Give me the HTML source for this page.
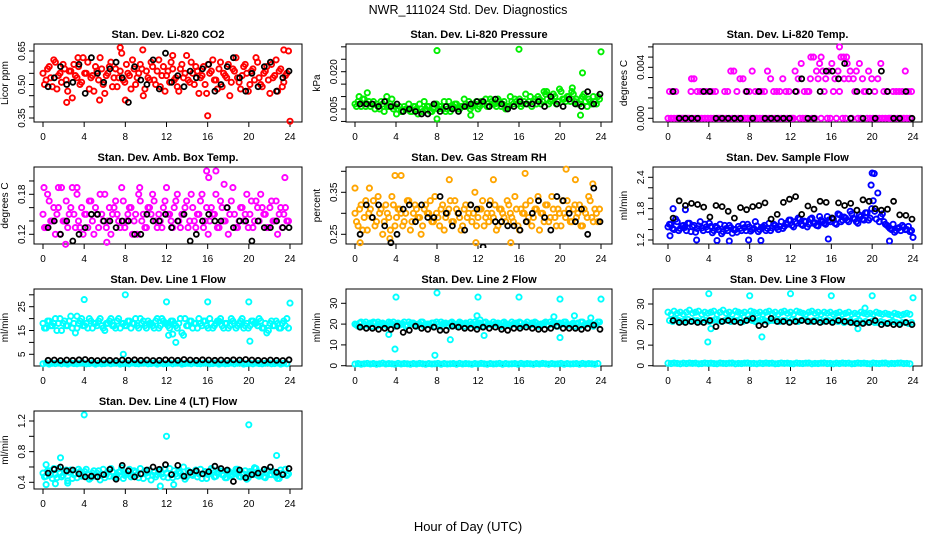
<!DOCTYPE html>
<html><head><meta charset="utf-8"><style>
html,body{margin:0;padding:0;background:#fff;}
svg{display:block;font-family:"Liberation Sans",Arial,sans-serif;}
</style></head><body>
<svg id="chart" width="936" height="540" viewBox="0 0 936 540">
<text x="468" y="14" text-anchor="middle" font-size="12.5">NWR_111024  Std. Dev. Diagnostics</text>
<text x="468" y="531" text-anchor="middle" font-size="13">Hour of Day (UTC)</text>
</svg>
<script>
// shared black-point hours
const blackHours=[0.5,1.1,1.7,2.3,2.9,3.5,4.1,4.7,5.3,5.9,6.5,7.1,7.7,8.3,8.9,9.5,10.1,10.7,11.3,11.9,12.5,13.1,13.7,14.3,14.9,15.5,16.1,16.7,17.3,17.9,18.5,19.1,19.7,20.3,20.9,21.5,22.1,22.7,23.3,23.9];
const nColored=80;

// CO2
const co2A=[0.55,0.52,0.58,0.49,0.60,0.54,0.51,0.57,0.47,0.56,0.59,0.53,0.50,0.62,0.55,0.48,0.54,0.58,0.52,0.57,0.46,0.55,0.60,0.53,0.49,0.56,0.52,0.59,0.54,0.61,0.50,0.55,0.57,0.48,0.53,0.60,0.52,0.56,0.49,0.58,0.54,0.51,0.57,0.53,0.47,0.59,0.55,0.52,0.60,0.50,0.56,0.53,0.58,0.46,0.55,0.61,0.52,0.57,0.49,0.54,0.59,0.51,0.56,0.53,0.48,0.58,0.55,0.50,0.57,0.62,0.53,0.49,0.56,0.52,0.59,0.54,0.47,0.57,0.51,0.55];
const co2B=[0.50,0.57,0.53,0.61,0.48,0.55,0.59,0.52,0.56,0.44,0.54,0.58,0.51,0.55,0.60,0.53,0.47,0.56,0.62,0.50,0.54,0.58,0.49,0.57,0.53,0.64,0.51,0.55,0.48,0.57,0.53,0.59,0.45,0.56,0.52,0.58,0.50,0.61,0.54,0.47,0.56,0.60,0.52,0.49,0.57,0.53,0.63,0.51,0.55,0.58,0.46,0.54,0.50,0.59,0.56,0.52,0.48,0.60,0.55,0.53,0.45,0.57,0.62,0.51,0.54,0.59,0.47,0.56,0.52,0.60,0.50,0.55,0.58,0.46,0.53,0.61,0.56,0.49,0.54,0.65];
const co2OutHours=[2.3,5.5,9.7,7.5,16,24,23.4,3.4,12.6,8.0];
const co2OutVals=[0.42,0.43,0.655,0.665,0.36,0.335,0.655,0.62,0.63,0.43];
const co2Black=[0.49,0.53,0.58,0.50,0.51,0.59,0.46,0.62,0.55,0.51,0.57,0.60,0.53,0.42,0.58,0.52,0.50,0.61,0.48,0.64,0.51,0.54,0.49,0.56,0.53,0.57,0.59,0.47,0.50,0.58,0.62,0.53,0.47,0.55,0.49,0.58,0.60,0.47,0.53,0.56];

// Pressure
const presA=[0.007,0.008,0.006,0.009,0.007,0.006,0.008,0.007,0.005,0.007,0.008,0.006,0.009,0.006,0.005,0.004,0.006,0.005,0.004,0.006,0.005,0.007,0.004,0.005,0.006,0.004,0.007,0.005,0.006,0.008,0.005,0.004,0.006,0.007,0.005,0.006,0.007,0.008,0.006,0.007,0.005,0.008,0.007,0.006,0.009,0.007,0.006,0.008,0.007,0.005,0.006,0.008,0.009,0.007,0.006,0.008,0.007,0.010,0.008,0.007,0.009,0.008,0.011,0.007,0.009,0.010,0.008,0.012,0.009,0.010,0.008,0.011,0.009,0.007,0.010,0.008,0.009,0.007,0.008,0.010];
const presB=[0.006,0.007,0.009,0.006,0.008,0.007,0.005,0.006,0.008,0.004,0.006,0.007,0.005,0.003,0.006,0.004,0.005,0.007,0.004,0.006,0.003,0.005,0.008,0.006,0.004,0.005,0.007,0.006,0.005,0.004,0.008,0.006,0.007,0.005,0.006,0.009,0.006,0.005,0.007,0.008,0.006,0.007,0.009,0.006,0.008,0.007,0.009,0.006,0.008,0.006,0.010,0.007,0.008,0.009,0.007,0.011,0.008,0.006,0.009,0.010,0.007,0.012,0.009,0.008,0.011,0.007,0.013,0.009,0.008,0.010,0.012,0.008,0.007,0.009,0.011,0.006,0.008,0.010,0.007,0.009];
const presOutHours=[8,16,24,1.2,22.2,22,8,11.3,21.2,0.4,3.1,18.7];
const presOutVals=[0.0285,0.029,0.028,0.0115,0.0195,0.0025,0.001,0.0025,0.0135,0.010,0.010,0.012];
const presBlack=[0.007,0.007,0.007,0.006,0.008,0.006,0.007,0.004,0.005,0.004,0.003,0.003,0.007,0.004,0.006,0.005,0.004,0.006,0.007,0.008,0.008,0.006,0.009,0.007,0.005,0.006,0.008,0.007,0.007,0.008,0.006,0.010,0.007,0.006,0.009,0.007,0.006,0.012,0.007,0.011];

// Li-820 temperature
const tempA=[0,0,0,0,0,0,0,0,0,0,0,0,0,0,0,0,0,0,0,0,0,0,0,0,0,0,0,0,0,0,0,0,0,0,0,0,0,0,0,0,0,0,0.0021,0,0,0,0.0021,0,0,0.0031,0,0.0021,0,0,0.0021,0,0.0021,0,0,0.0031,0,0.0021,0,0,0.0021,0,0,0,0,0,0,0,0,0,0,0,0,0,0,0];
const tempB=[0.0021,0.0021,0.0021,0,0,0,0,0.0021,0.0031,0.0021,0.0021,0.0021,0.0021,0.0021,0.0021,0.0021,0,0,0.0021,0.0021,0.0037,0.0037,0.0021,0.0031,0.0031,0.0021,0.0021,0.0037,0.0021,0.0021,0.0021,0.0021,0.0037,0.0031,0.0021,0.0021,0.0021,0.0031,0.0021,0.0021,0,0.0037,0.0031,0.0043,0.0021,0.0021,0.0031,0.0048,0.0037,0.0043,0.0037,0.0031,0.0037,0.0043,0.0031,0.0037,0.0048,0.0031,0.0043,0.0037,0.0031,0.0037,0.0043,0.0031,0.0021,0.0037,0.0031,0.0021,0.0031,0.0043,0.0021,0.0021,0,0.0021,0.0021,0.0021,0.0021,0.0037,0.0021,0.0021];
const tempOutHours=[16.8,14,15,2.3,17.2,17.5];
const tempOutVals=[0.0056,0.0048,0.0048,0.0031,0.0048,0.0048];
const tempBlack=[0.0021,0,0,0,0,0.0021,0.0021,0,0,0,0,0,0.0021,0,0.0021,0,0,0,0,0,0.0021,0.0031,0,0,0.0021,0.0037,0.0037,0.0031,0.0043,0,0.0021,0,0.0021,0,0.0037,0.0021,0,0,0.0021,0];

// Ambient box temp
const ambA=[0.15,0.13,0.17,0.14,0.12,0.16,0.19,0.14,0.13,0.16,0.15,0.18,0.13,0.12,0.15,0.17,0.14,0.16,0.13,0.15,0.18,0.14,0.12,0.16,0.15,0.13,0.17,0.14,0.16,0.12,0.15,0.18,0.14,0.13,0.16,0.15,0.17,0.13,0.14,0.16,0.19,0.15,0.13,0.17,0.14,0.15,0.16,0.13,0.18,0.14,0.15,0.17,0.13,0.16,0.14,0.15,0.18,0.13,0.16,0.14,0.12,0.17,0.15,0.13,0.16,0.14,0.18,0.15,0.13,0.17,0.14,0.16,0.15,0.13,0.17,0.14,0.12,0.16,0.15,0.14];
const ambB=[0.13,0.18,0.14,0.16,0.15,0.12,0.14,0.17,0.15,0.19,0.13,0.14,0.16,0.15,0.13,0.17,0.12,0.15,0.18,0.14,0.13,0.16,0.15,0.17,0.14,0.19,0.13,0.15,0.16,0.14,0.12,0.17,0.15,0.13,0.16,0.18,0.14,0.15,0.13,0.17,0.15,0.14,0.16,0.18,0.13,0.15,0.17,0.14,0.16,0.13,0.15,0.18,0.14,0.12,0.16,0.15,0.13,0.17,0.14,0.16,0.15,0.19,0.13,0.14,0.16,0.15,0.13,0.17,0.14,0.16,0.18,0.15,0.13,0.16,0.14,0.17,0.15,0.13,0.16,0.14];
const ambOutHours=[0.1,3.3,2.2,15.9,16.8,16.1,23.5,6.2,9.4,1.5,17.6];
const ambOutVals=[0.19,0.19,0.105,0.215,0.215,0.205,0.205,0.108,0.19,0.19,0.195];
const ambBlack=[0.13,0.14,0.12,0.14,0.11,0.12,0.13,0.15,0.15,0.14,0.14,0.13,0.14,0.14,0.12,0.12,0.15,0.14,0.14,0.15,0.13,0.14,0.15,0.11,0.12,0.14,0.15,0.14,0.14,0.16,0.13,0.14,0.14,0.11,0.14,0.13,0.13,0.14,0.13,0.13];

// Gas stream RH
const rhA=[0.30,0.27,0.32,0.29,0.26,0.31,0.33,0.28,0.30,0.25,0.32,0.29,0.34,0.27,0.31,0.30,0.28,0.33,0.26,0.30,0.31,0.29,0.27,0.32,0.30,0.28,0.34,0.29,0.31,0.26,0.30,0.33,0.28,0.31,0.29,0.27,0.32,0.30,0.28,0.35,0.29,0.31,0.27,0.30,0.33,0.29,0.26,0.31,0.30,0.28,0.32,0.29,0.34,0.27,0.31,0.30,0.28,0.33,0.29,0.31,0.26,0.30,0.32,0.28,0.34,0.29,0.31,0.27,0.30,0.33,0.28,0.31,0.29,0.32,0.27,0.30,0.34,0.29,0.31,0.28];
const rhB=[0.28,0.31,0.26,0.33,0.30,0.29,0.27,0.34,0.31,0.28,0.30,0.26,0.32,0.29,0.31,0.27,0.30,0.33,0.28,0.32,0.29,0.25,0.31,0.30,0.33,0.28,0.30,0.27,0.32,0.29,0.31,0.28,0.33,0.30,0.26,0.31,0.29,0.32,0.30,0.27,0.31,0.33,0.29,0.28,0.30,0.32,0.27,0.31,0.29,0.33,0.30,0.28,0.31,0.26,0.30,0.32,0.29,0.27,0.31,0.34,0.30,0.28,0.32,0.29,0.31,0.27,0.30,0.33,0.29,0.31,0.28,0.32,0.30,0.27,0.31,0.29,0.33,0.28,0.30,0.31];
const rhOutHours=[0,3.9,4.5,9.2,16.6,20.6,0.5,11.8,15.2,3.4,23.2,1.4,13.5,21.5];
const rhOutVals=[0.36,0.39,0.39,0.38,0.395,0.405,0.23,0.23,0.23,0.24,0.37,0.36,0.38,0.38];
const rhBlack=[0.25,0.32,0.29,0.32,0.27,0.23,0.25,0.31,0.32,0.28,0.32,0.29,0.29,0.34,0.30,0.27,0.30,0.26,0.32,0.31,0.22,0.32,0.28,0.28,0.27,0.27,0.26,0.28,0.30,0.33,0.29,0.26,0.34,0.33,0.30,0.28,0.31,0.25,0.36,0.28];

// Sample flow
const sfA=[1.45,1.50,1.40,1.55,1.42,1.48,1.38,1.52,1.45,1.35,1.47,1.43,1.50,1.40,1.46,1.38,1.44,1.50,1.36,1.42,1.48,1.33,1.40,1.46,1.38,1.44,1.50,1.37,1.42,1.47,1.40,1.45,1.38,1.52,1.43,1.48,1.40,1.55,1.46,1.50,1.58,1.45,1.52,1.60,1.48,1.55,1.50,1.62,1.53,1.47,1.58,1.52,1.65,1.55,1.60,1.50,1.68,1.58,1.62,1.55,1.70,1.60,1.52,1.65,1.58,1.72,1.62,1.95,1.60,1.55,1.70,1.50,1.45,1.40,1.35,1.42,1.38,1.45,1.40,1.36];
const sfB=[1.50,1.42,1.60,1.38,1.47,1.44,1.52,1.36,1.48,1.42,1.55,1.38,1.45,1.52,1.34,1.46,1.40,1.32,1.48,1.38,1.44,1.40,1.35,1.42,1.50,1.38,1.45,1.40,1.55,1.36,1.44,1.48,1.42,1.38,1.50,1.44,1.46,1.42,1.52,1.58,1.48,1.55,1.62,1.50,1.56,1.45,1.60,1.52,1.48,1.65,1.55,1.50,1.58,1.62,1.52,1.70,1.55,1.64,1.58,1.75,1.62,1.55,1.68,1.60,1.72,1.58,1.80,1.75,2.10,1.65,1.55,1.48,1.42,1.50,1.38,1.44,1.48,1.40,1.46,1.38];
const sfOutHours=[0.2,4.8,6,7.9,9.1,15.7,20,20.2,19.9,21.7,24,0.5,1.7,2.8];
const sfOutVals=[1.28,1.19,1.18,1.20,1.19,1.22,2.48,2.47,2.25,1.18,1.25,1.80,1.78,1.20];
const sfBlack=[1.62,1.95,1.86,1.90,1.88,1.83,1.64,1.86,1.84,1.75,1.62,1.82,1.78,1.84,1.86,1.91,1.60,1.69,1.92,1.98,2.03,1.69,1.85,1.79,1.94,1.92,1.62,1.91,1.86,1.90,1.77,1.97,1.94,1.80,1.77,1.79,1.94,1.68,1.67,1.60];

// Line 1 flow
const l1A=[18,16,19,17,20,18,15,19,17,21,18,16,19,17,18,20,16,18,19,17,15,18,20,17,19,16,18,17,19,18,20,16,18,17,19,18,16,20,17,19,18,16,19,17,18,14,20,17,19,18,16,18,19,17,20,16,18,19,17,18,16,20,18,17,19,16,18,17,19,18,20,16,18,15,19,17,18,16,19,20];
const l1B=[16,19,17,18,15,20,18,17,19,16,14,18,20,17,16,19,18,17,20,16,18,19,17,16,20,18,17,19,16,18,17,20,19,16,18,17,19,16,20,18,17,19,18,16,20,13,17,19,16,18,20,17,19,16,18,17,19,20,16,18,17,19,16,18,20,17,16,19,18,17,19,16,14,18,17,19,16,18,17,16];
const l1Low=[1.0,1.3,0.9,1.2,1.1,1.4,1.0,1.2,0.9,1.3,1.1,1.0,1.2,1.4,1.0,1.1,1.3,0.9,1.2,1.0,1.1,1.3,1.0,1.2,1.4,0.9,1.1,1.2,1.0,1.3,1.1,1.0,1.2,1.4,1.0,1.1,1.3,0.9,1.2,1.0,1.1,1.3,1.0,1.2,1.4,0.9,1.1,1.2,1.0,1.3,1.1,1.0,1.2,1.4,1.0,1.1,1.3,0.9,1.2,1.0,1.1,1.3,1.0,1.2,1.4,0.9,1.1,1.2,1.0,1.3,1.1,1.0,1.2,1.4,1.0,1.1,1.3,0.9,1.2,1.0];
const l1OutHours=[4,8,12,16,20,24,12.2,12.6,12.9,20.1,7.8,3.3];
const l1OutVals=[28,30,27,27,27,26.5,13,13.5,10,10.5,5,21];
const l1Black=[2.5,2.6,2.4,2.6,2.5,2.7,2.8,2.5,2.4,2.6,2.5,2.4,2.6,2.5,2.7,2.5,2.6,2.4,2.5,2.7,2.6,2.5,2.8,2.6,2.5,2.7,2.6,2.5,2.6,2.5,2.7,2.6,2.8,2.6,2.5,2.4,2.6,2.5,2.4,2.7];

// Line 2 flow
const l2A=[20,19,21,20,19.5,20.5,21,19,20,20.5,19.5,21,20,19,20.5,20,21,19.5,20,20.5,19,20,21,19.5,20,20.5,19,20,21,20,19.5,20.5,20,19,21,20,20.5,19.5,20,21,19,20,20.5,19.5,20,21,20,19,20.5,20,19.5,21,20,19,20.5,20,21,19.5,20,20.5,19,20,21,19.5,20,20.5,19,20,21,20,19.5,20.5,20,19,21,20,20.5,19.5,20,21];
const l2B=[19.5,20.5,19,21,20,19,20.5,21,19.5,20,19,20.5,21,20,19.5,20,19,21,20.5,19.5,20,21,19,20,19.5,20.5,21,19,20,20.5,19,21,20,19.5,20.5,19,20,21,19.5,20,20.5,19,21,20,19.5,20,20.5,19,21,20,19.5,20,20.5,21,19,20,19.5,20.5,21,19,20,20.5,19.5,21,20,19,20.5,20,21,19.5,20,19,20.5,21,19.5,20,20.5,19,20,21];
const l2Low=[0.8,1.0,0.7,0.9,1.1,0.8,1.0,0.7,0.9,1.2,0.8,1.0,0.9,0.7,1.1,0.8,1.0,0.9,0.7,1.0,0.8,1.1,0.9,0.7,1.0,0.8,0.9,1.1,0.7,1.0,0.8,0.9,1.0,0.7,1.1,0.8,1.0,0.9,0.7,1.0,0.8,1.1,0.9,0.7,1.0,0.8,0.9,1.1,0.7,1.0,0.8,0.9,1.0,0.7,1.1,0.8,1.0,0.9,0.7,1.0,0.8,1.1,0.9,0.7,1.0,0.8,0.9,1.1,0.7,1.0,0.8,0.9,1.0,0.7,1.1,0.8,1.0,0.9,0.7,1.0];
const l2OutHours=[4,8,12,16,20,24,3.9,7.8,11.9,9.3,12.6,20,19.4,21.4,23,3.3,12.2];
const l2OutVals=[33,35,33,33,32,32,8,5,24,12.5,14.5,13.5,23.5,24,23,15,22];
const l2Black=[18.5,18,18,17.5,18,17.5,19,16,17,19,18,17.5,18.5,17,17,19,18.5,18,18,17.5,18.5,18,18.5,17.5,17,18,18,18.5,18,17.5,17.5,18,19,18,18,18,17.5,18,19.5,17.5];

// Line 3 flow
const l3A=[26,25,26.5,25.5,26,25,26,27,25.5,26,26.5,25,26,25.5,26,26.5,25,26,27,25.5,26,25,26.5,26,25.5,26,25,26.5,26,25.5,26,25,26,26.5,25.5,26,25,26,26.5,25.5,26,25,26.5,26,25.5,25,26,26.5,25.5,26,25,26,25.5,26,25,25.5,26,25,25.5,26,25,25.5,25,26,25.5,25,25.5,25,26,25.5,25,25.5,25,24.5,25.5,25,24.5,25,25.5,25];
const l3B=[22,21.5,22.5,22,21.5,22,22.5,21.5,22,22,21.5,22.5,22,21.5,22,22.5,22,21.5,22,22.5,21.5,22,22,22.5,21.5,22,22.5,22,21.5,22,22.5,22,21.5,22,22,22.5,21.5,22,22,21.5,22.5,22,21.5,22,22.5,22,21.5,22,22,22.5,21.5,22,22,21.5,22,21.5,22,21,21.5,22,21,21.5,22,21,21.5,21,21.5,21,21,21.5,21,20.5,21,21.5,21,20.5,21,21,20.5,21];
const l3Low=[1.2,1.0,1.3,1.1,0.9,1.2,1.0,1.3,1.1,1.2,0.9,1.0,1.3,1.1,1.2,1.0,0.9,1.3,1.1,1.0,1.2,1.3,0.9,1.1,1.0,1.2,1.3,1.0,1.1,0.9,1.2,1.0,1.3,1.1,1.2,0.9,1.0,1.3,1.1,1.2,1.0,0.9,1.3,1.1,1.0,1.2,1.3,0.9,1.1,1.0,1.2,1.3,1.0,1.1,0.9,1.2,1.0,1.3,1.1,1.2,0.9,1.0,1.3,1.1,1.2,1.0,0.9,1.3,1.1,1.0,1.2,1.3,0.9,1.1,1.0,1.2,1.3,1.0,1.1,0.9];
const l3OutHours=[4,8,12,16,20,24,3.9,9.2,19.3,18.6,4.2];
const l3OutVals=[35,34,35,34,34,33,11.5,14,28,18,18];
const l3Black=[22,21,21,21.5,21,21,22,19,21.5,22,21.5,21,22,23,19.5,20,23,21.5,21.5,21,21.5,22,21.5,21.5,21,21.5,21,22,21.5,21,20.5,20.5,21,22,20,20.5,20,20,21,20];

// Line 4 (LT) flow
const l4A=[0.52,0.48,0.55,0.45,0.50,0.58,0.47,0.53,0.42,0.56,0.50,0.46,0.54,0.49,0.57,0.44,0.52,0.48,0.55,0.51,0.46,0.53,0.58,0.47,0.50,0.54,0.45,0.52,0.57,0.49,0.53,0.46,0.51,0.55,0.48,0.43,0.53,0.50,0.56,0.47,0.52,0.58,0.46,0.51,0.54,0.49,0.44,0.55,0.50,0.53,0.47,0.57,0.51,0.45,0.52,0.56,0.48,0.53,0.50,0.46,0.55,0.49,0.52,0.57,0.47,0.51,0.44,0.54,0.50,0.58,0.48,0.52,0.46,0.55,0.50,0.53,0.45,0.56,0.51,0.49];
const l4B=[0.47,0.55,0.50,0.58,0.46,0.52,0.49,0.56,0.53,0.45,0.51,0.57,0.48,0.54,0.50,0.46,0.55,0.52,0.43,0.57,0.50,0.48,0.54,0.46,0.53,0.59,0.49,0.51,0.47,0.55,0.50,0.58,0.45,0.52,0.56,0.49,0.47,0.54,0.51,0.57,0.46,0.50,0.55,0.48,0.52,0.60,0.47,0.53,0.49,0.56,0.51,0.45,0.54,0.50,0.58,0.47,0.52,0.55,0.49,0.46,0.53,0.50,0.57,0.48,0.51,0.55,0.46,0.52,0.59,0.49,0.53,0.47,0.56,0.50,0.54,0.48,0.45,0.52,0.57,0.51];
const l4OutHours=[4,12,20,1.7,22.7,11.4,0.3,0.3,1.2,12.7,2.4];
const l4OutVals=[1.28,1.0,1.15,0.72,0.75,0.35,0.37,0.63,0.38,0.37,0.39];
const l4Black=[0.52,0.57,0.60,0.55,0.56,0.51,0.47,0.48,0.47,0.50,0.57,0.44,0.62,0.55,0.47,0.51,0.56,0.60,0.57,0.63,0.50,0.62,0.48,0.53,0.55,0.51,0.54,0.61,0.58,0.56,0.41,0.56,0.46,0.50,0.52,0.57,0.60,0.53,0.50,0.58];

const xTicks=[0,4,8,12,16,20,24];

const NS="http://www.w3.org/2000/svg";
const svg=document.getElementById('chart');
function mk(tag,attrs,parent){const e=document.createElementNS(NS,tag);for(const k in attrs)e.setAttribute(k,attrs[k]);(parent||svg).appendChild(e);return e;}

const cols=[{bl:34,br:302,x0:43,x1:290},{bl:346,br:612,x0:355,x1:601},{bl:653,br:922,x0:668,x1:913}];
const rows=[{top:44,bot:122},{top:167,bot:244},{top:289,bot:366},{top:411,bot:489}];

function panel(p){
  const c=cols[p.col],r=rows[p.row];
  const g=mk('g',{});
  
  
  const xs=h=>c.x0+(c.x1-c.x0)*h/24;
  const ys=v=>p.py0+(p.py1-p.py0)*(v-p.v0)/(p.v1-p.v0);
  const t=mk('text',{x:(c.bl+c.br)/2,y:r.top-6,'text-anchor':'middle','font-size':11,'font-weight':'bold'},g);
  t.textContent=p.title;
  
  
  const b=mk('rect',{x:c.bl,y:r.top,width:c.br-c.bl,height:r.bot-r.top,fill:'none',stroke:'#000','stroke-width':1},g);
  
  
  xTicks.forEach(h=>{
    mk('line',{x1:xs(h),x2:xs(h),y1:r.bot,y2:r.bot+5,stroke:'#000'},g);
    const tl=mk('text',{x:xs(h),y:r.bot+18,'text-anchor':'middle','font-size':10},g);
    tl.textContent=h;
    
    
  });
  p.yt.forEach(v=>{mk('line',{x1:c.bl-5,x2:c.bl,y1:ys(v),y2:ys(v),stroke:'#000'},g);});
  p.yl.forEach(v=>{
    const y=ys(v),x=c.bl-9;
    const tl=mk('text',{x:x,y:y,'text-anchor':'middle','font-size':10,transform:`rotate(-90 ${x} ${y})`},g);
    tl.textContent=v.toFixed(p.dec);
    
    
  });
  const yx=c.bl-26,yy=(r.top+r.bot)/2;
  const yt=mk('text',{x:yx,y:yy,'text-anchor':'middle','font-size':10,transform:`rotate(-90 ${yx} ${yy})`},g);
  yt.textContent=p.ylab;
  
  
  const clip=`clip${p.row}${p.col}`;
  const cp=mk('clipPath',{id:clip},g);
  mk('rect',{x:c.bl-4,y:r.top-4,width:c.br-c.bl+8,height:r.bot-r.top+8},cp);
  const pg=mk('g',{'clip-path':`url(#${clip})`},g);
  p.series.forEach((s,si)=>{
    s.v.forEach((v,i)=>{
      const h=s.h?s.h[i]:(i*0.3+(si%2?0.15:0));
      const pt=mk('circle',{cx:xs(h).toFixed(1),cy:ys(v).toFixed(1),r:2.6,fill:'none',stroke:p.color,'stroke-width':1.9},pg);
      
      
    });
  });
  p.black.forEach((v,i)=>{
    const pt=mk('circle',{cx:xs(blackHours[i]).toFixed(1),cy:ys(v).toFixed(1),r:2.5,fill:'none',stroke:'#000','stroke-width':1.8},pg);
    
    
  });
}

panel({name:'co2-panel',col:0,row:0,title:'Stan. Dev. Li-820 CO2',ylab:'Licor ppm',color:'#ff0000',v0:0.35,v1:0.65,py0:118,py1:51,yt:[0.35,0.40,0.45,0.50,0.55,0.60,0.65],yl:[0.35,0.50,0.65],dec:2,series:[{v:co2A},{v:co2B},{v:co2OutVals,h:co2OutHours}],black:co2Black});
panel({name:'pressure-panel',col:1,row:0,title:'Stan. Dev. Li-820 Pressure',ylab:'kPa',color:'#00ee00',v0:0.005,v1:0.020,py0:109,py1:71.7,yt:[0,0.005,0.010,0.015,0.020,0.025,0.030],yl:[0.005,0.020],dec:3,series:[{v:presA},{v:presB},{v:presOutVals,h:presOutHours}],black:presBlack});
panel({name:'temp-panel',col:2,row:0,title:'Stan. Dev. Li-820 Temp.',ylab:'degrees C',color:'#ff00ff',v0:0,v1:0.004,py0:118.3,py1:67.3,yt:[0,0.0008,0.0016,0.0024,0.0032,0.004,0.0048,0.0056],yl:[0,0.004],dec:3,series:[{v:tempA},{v:tempB},{v:tempOutVals,h:tempOutHours}],black:tempBlack});
panel({name:'amb-temp-panel',col:0,row:1,title:'Stan. Dev. Amb. Box Temp.',ylab:'degrees C',color:'#ff00ff',v0:0.12,v1:0.18,py0:234.3,py1:194.3,yt:[0.12,0.14,0.16,0.18,0.20],yl:[0.12,0.18],dec:2,series:[{v:ambA},{v:ambB},{v:ambOutVals,h:ambOutHours}],black:ambBlack});
panel({name:'rh-panel',col:1,row:1,title:'Stan. Dev. Gas Stream RH',ylab:'percent',color:'#ffa500',v0:0.25,v1:0.35,py0:234.3,py1:192.3,yt:[0.25,0.30,0.35,0.40],yl:[0.25,0.35],dec:2,series:[{v:rhA},{v:rhB},{v:rhOutVals,h:rhOutHours}],black:rhBlack});
panel({name:'sample-flow-panel',col:2,row:1,title:'Stan. Dev. Sample Flow',ylab:'ml/min',color:'#0000ff',v0:1.2,v1:2.4,py0:240,py1:177.3,yt:[1.2,1.4,1.6,1.8,2.0,2.2,2.4],yl:[1.2,1.8,2.4],dec:1,series:[{v:sfA},{v:sfB},{v:sfOutVals,h:sfOutHours}],black:sfBlack});
panel({name:'line1-flow-panel',col:0,row:2,title:'Stan. Dev. Line 1 Flow',ylab:'ml/min',color:'#00ffff',v0:5,v1:25,py0:354.3,py1:306.7,yt:[5,10,15,20,25,30],yl:[5,15,25],dec:0,series:[{v:l1A},{v:l1B},{v:l1Low},{v:l1OutVals,h:l1OutHours}],black:l1Black});
panel({name:'line2-flow-panel',col:1,row:2,title:'Stan. Dev. Line 2 Flow',ylab:'ml/min',color:'#00ffff',v0:0,v1:30,py0:365.7,py1:303.3,yt:[0,10,20,30],yl:[0,10,20,30],dec:0,series:[{v:l2A},{v:l2B},{v:l2Low},{v:l2OutVals,h:l2OutHours}],black:l2Black});
panel({name:'line3-flow-panel',col:2,row:2,title:'Stan. Dev. Line 3 Flow',ylab:'ml/min',color:'#00ffff',v0:0,v1:30,py0:365.7,py1:304,yt:[0,10,20,30],yl:[0,10,20,30],dec:0,series:[{v:l3A},{v:l3B},{v:l3Low},{v:l3OutVals,h:l3OutHours}],black:l3Black});
panel({name:'line4-flow-panel',col:0,row:3,title:'Stan. Dev. Line 4 (LT) Flow',ylab:'ml/min',color:'#00ffff',v0:0.4,v1:1.2,py0:482.3,py1:421,yt:[0.4,0.6,0.8,1.0,1.2],yl:[0.4,0.8,1.2],dec:1,series:[{v:l4A},{v:l4B},{v:l4OutVals,h:l4OutHours}],black:l4Black});
</script>
</body></html>
